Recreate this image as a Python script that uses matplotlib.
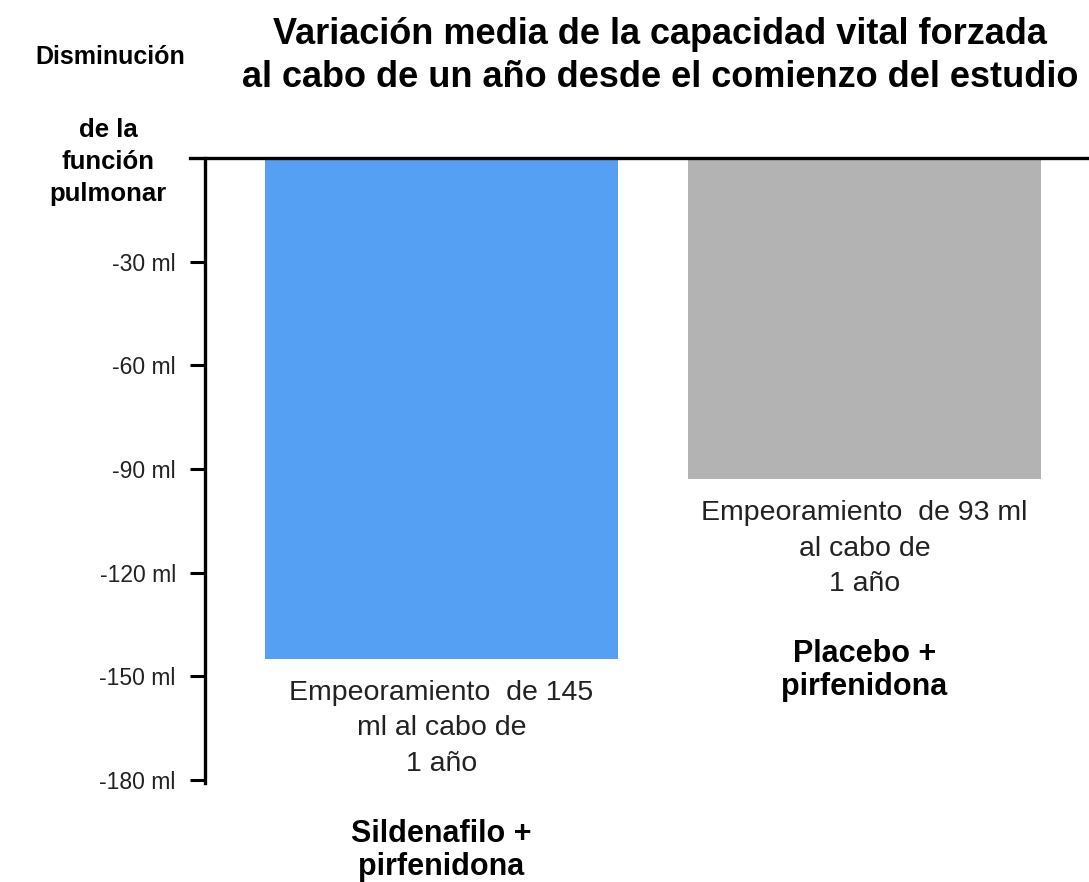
import matplotlib
matplotlib.use("Agg")
import matplotlib.pyplot as plt
from matplotlib.lines import Line2D

plt.rcParams['font.family'] = ['Liberation Sans', 'DejaVu Sans']

# datos
grupos = ['Sildenafilo +\npirfenidona', 'Placebo +\npirfenidona']
variacion = [-145, -93]
notas = ['Empeoramiento  de 145\nml al cabo de\n1 año',
         'Empeoramiento  de 93 ml\nal cabo de\n1 año']
colores = ['#55a0f2', '#b3b3b3']
ticks = [-30, -60, -90, -120, -150, -180]
tick_labels = ['-30 ml', '-60 ml', '-90 ml', '-120 ml', '-150 ml', '-180 ml']

W, H = 1089, 882
fig = plt.figure(figsize=(W / 100, H / 100), dpi=100)
ax = fig.add_axes([205 / W, 102 / H, 884 / W, 622 / H])

x = [0, 1]
ax.bar(x, variacion, width=0.8345, color=colores, align='center')
ax.set_xlim(-0.559, 1.531)
ax.set_ylim(-180, 0)

ax.set_yticks(ticks)
ax.set_yticklabels(tick_labels, fontsize=16.5, color='#222222')
ax.tick_params(axis='y', length=11, width=2.2, pad=10)
ax.set_xticks([])
for s in ['right', 'bottom', 'top']:
    ax.spines[s].set_visible(False)
ax.spines['left'].set_linewidth(2.4)
ax.spines['left'].set_bounds(-180.8, 0)

# linea superior
fig.add_artist(Line2D([190 / W, 1.0], [(H - 158) / H] * 2, color='black', lw=2.4))

for xi, v, nota, g in zip(x, variacion, notas, grupos):
    ax.annotate(nota, (xi, v), xytext=(0, -15), textcoords='offset points',
                ha='center', va='top', fontsize=20.5, color='#222222', linespacing=1.47)
    ax.annotate(g, (xi, v), xytext=(0, -115), textcoords='offset points',
                ha='center', va='top', fontsize=22, fontweight='bold', linespacing=1.12)

fig.text(660 / W, 1 - 56 / H, 'Variación media de la capacidad vital forzada\nal cabo de un año desde el comienzo del estudio',
         ha='center', va='center', fontsize=26, fontweight='bold', linespacing=1.26)
fig.text(110 / W, 1 - 57 / H, 'Disminución', ha='center', va='center', fontsize=18, fontweight='bold')
fig.text(108 / W, 1 - 162 / H, 'de la\nfunción\npulmonar', ha='center', va='center',
         fontsize=18.5, fontweight='bold', linespacing=1.41)

fig.savefig('out.png', dpi=100)
